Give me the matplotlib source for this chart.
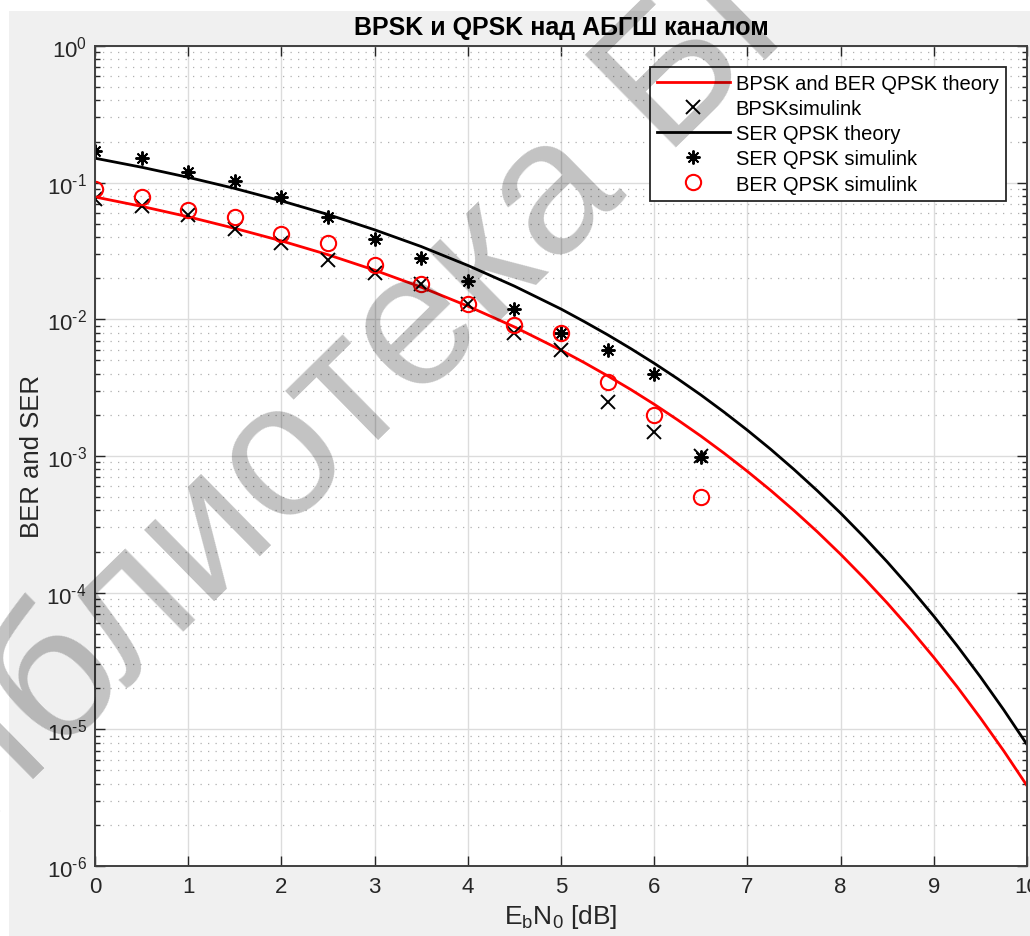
import numpy as np
import matplotlib
matplotlib.use('Agg')
import matplotlib.pyplot as plt
from matplotlib.patches import Rectangle
from matplotlib.ticker import LogLocator, NullFormatter, FuncFormatter

plt.rcParams['font.family'] = ['Liberation Sans', 'DejaVu Sans']
plt.rcParams['mathtext.fontset'] = 'custom'
plt.rcParams['mathtext.rm'] = 'Liberation Sans'
plt.rcParams['mathtext.it'] = 'Liberation Sans:italic'
plt.rcParams['mathtext.default'] = 'regular'
plt.rcParams['axes.unicode_minus'] = False

# theory curves
ebn0_theory = [0, 0.5, 1, 1.5, 2, 2.5, 3, 3.5, 4, 4.5, 5, 5.25, 5.5, 5.75, 6, 6.25, 6.5, 6.75,
               7, 7.25, 7.5, 7.75, 8, 8.25, 8.5, 8.75, 9, 9.25, 9.5, 9.75, 10]
ber_theory = [0.0786, 0.0671, 0.0563, 0.0463, 0.0375, 0.0297, 0.0229, 0.0172, 0.0125,
              0.00880, 0.00595, 0.00482, 0.00386, 0.00306, 0.00239, 0.00184, 0.00140,
              1.048e-3, 7.72e-4, 5.60e-4, 3.99e-4, 2.79e-4, 1.91e-4, 1.28e-4, 8.40e-5,
              5.38e-5, 3.36e-5, 2.05e-5, 1.21e-5, 6.96e-6, 3.87e-6]
ser_theory = [0.151, 0.1297, 0.1094, 0.0907, 0.0736, 0.0585, 0.0452, 0.0341, 0.0248,
              0.0175, 0.0119, 0.00962, 0.00771, 0.00610, 0.00477, 0.00368, 0.00280,
              2.094e-3, 1.544e-3, 1.120e-3, 7.97e-4, 5.57e-4, 3.82e-4, 2.56e-4, 1.68e-4,
              1.076e-4, 6.73e-5, 4.09e-5, 2.42e-5, 1.39e-5, 7.74e-6]

# simulink points
ebn0_sim = [0, 0.5, 1, 1.5, 2, 2.5, 3, 3.5, 4, 4.5, 5, 5.5, 6, 6.5]
bpsk_sim = [0.076, 0.067, 0.058, 0.046, 0.036, 0.027, 0.022, 0.018, 0.013, 0.0079, 0.0060,
            0.0025, 0.0015, 0.0010]
ser_sim = [0.171, 0.151, 0.120, 0.102, 0.078, 0.056, 0.039, 0.028, 0.019, 0.012, 0.0080,
           0.0060, 0.0040, 0.00099]
ber_qpsk_sim = [0.090, 0.078, 0.063, 0.056, 0.042, 0.036, 0.025, 0.018, 0.013, 0.0091, 0.0080,
                0.0035, 0.0020, 0.00050]

W, H = 1030, 937
fig = plt.figure(figsize=(W / 100, H / 100), dpi=100)
fig.patch.set_facecolor('white')
fig.add_artist(Rectangle((9 / W, 0), 1, 1 - 12 / H, transform=fig.transFigure,
                         facecolor='#f0f0f0', edgecolor='none', zorder=-10))

ax = fig.add_axes([95 / W, 1 - 867 / H, (1027 - 95) / W, (867 - 47) / H])
ax.set_facecolor('white')

ax.semilogy(ebn0_theory, ber_theory, color='#ff0000', lw=2.0, label='BPSK and BER QPSK theory')
ax.semilogy(ebn0_sim, bpsk_sim, 'x', color='k', ms=9.5, mew=1.4, label='BPSKsimulink')
ax.semilogy(ebn0_theory, ser_theory, color='k', lw=2.0, label='SER QPSK theory')
ax.semilogy(ebn0_sim, ser_sim, ls='none', marker=(8, 2, 0), color='k', ms=10, mew=1.4,
            label='SER QPSK simulink')
ax.semilogy(ebn0_sim, ber_qpsk_sim, 'o', mfc='none', mec='#ff0000', ms=11, mew=1.5,
            label='BER QPSK simulink')

ax.set_xlim(0, 10)
ax.set_ylim(1e-6, 1)
ax.set_xticks(range(0, 11))
ax.yaxis.set_major_locator(LogLocator(base=10, numticks=10))
ax.yaxis.set_minor_locator(LogLocator(base=10, subs=np.arange(2, 10), numticks=20))
ax.yaxis.set_minor_formatter(NullFormatter())


def pow10(v, pos):
    e = int(round(np.log10(v)))
    if e < 0:
        return r'$10^{‐%d}$' % (-e)
    return r'$10^{%d}$' % e


ax.yaxis.set_major_formatter(FuncFormatter(pow10))

ax.grid(True, which='major', color='#dcdcdc', lw=1.0, ls='-')
ax.grid(True, which='minor', axis='y', color='#b0b0b0', lw=0.9, ls=(0, (1, 5)))
ax.set_axisbelow(True)

ax.tick_params(which='both', direction='in', top=True, right=True, colors='#262626',
               labelsize=16)
ax.tick_params(which='major', length=7, width=1.0)
ax.tick_params(which='minor', length=3.6, width=1.0)
ax.tick_params(axis='x', pad=7)
ax.tick_params(axis='y', pad=6)
for s in ax.spines.values():
    s.set_color('#404040')
    s.set_linewidth(1.4)

ax.set_title('BPSK и QPSK над АБГШ каналом', fontsize=18, fontweight='bold', pad=9)
ax.set_xlabel(r'$E_bN_0$ [dB]', fontsize=19, color='#262626', labelpad=4)
ax.set_ylabel('BER and SER', fontsize=18.5, color='#262626', labelpad=2)

leg = ax.legend(loc='upper right', bbox_to_anchor=(0.977, 0.974), fontsize=14.5,
                frameon=True, fancybox=False, framealpha=1, edgecolor='#262626',
                handlelength=3.6, handletextpad=0.3, labelspacing=0.3, borderpad=0.35,
                borderaxespad=0)
leg.get_frame().set_linewidth(1.3)

# watermark
fig.text(462 / W, 1 - 290 / H, 'Библиотека БГУИР', fontsize=137, rotation=44.5,
         rotation_mode='anchor', ha='center', va='center', color='black', alpha=0.24,
         zorder=20)

fig.savefig('out.png', dpi=100)
